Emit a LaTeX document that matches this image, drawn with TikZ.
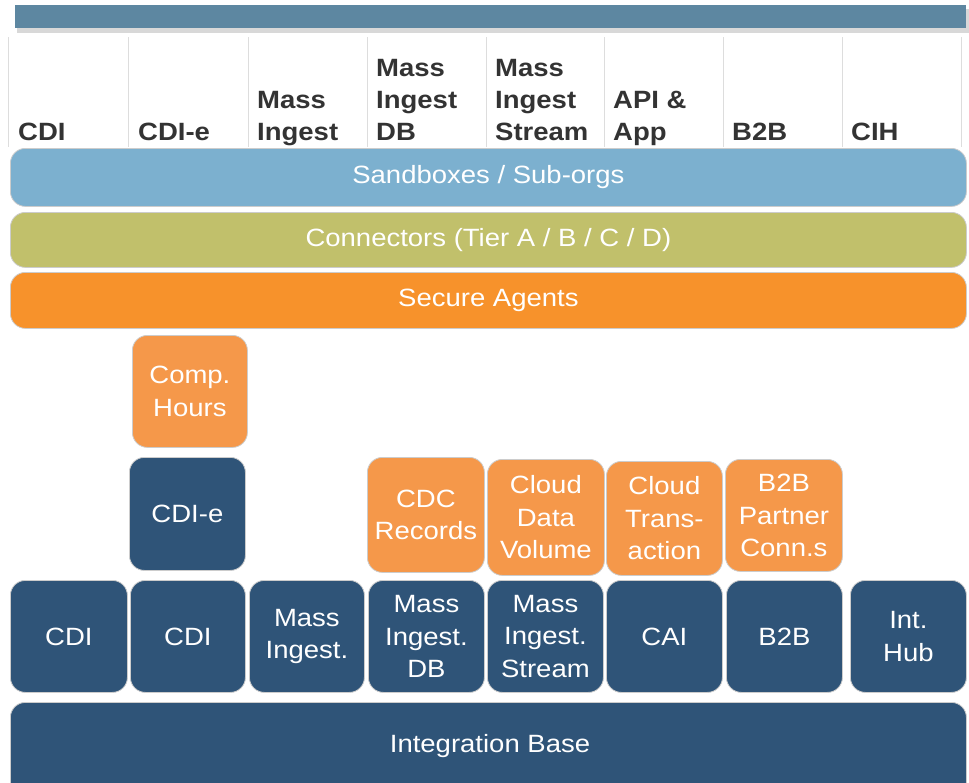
\documentclass[tikz,border=0pt]{standalone}
\usepackage{fontspec}
\setmainfont[FakeStretch=1.1]{Liberation Sans}
\definecolor{topbar}{HTML}{5D87A1}
\definecolor{sandc}{HTML}{7CB0CF}
\definecolor{connc}{HTML}{C1C06B}
\definecolor{agentc}{HTML}{F7922B}
\definecolor{orc}{HTML}{F5984A}
\definecolor{darkc}{HTML}{2F5478}
\definecolor{headc}{HTML}{333333}
\definecolor{gridc}{HTML}{DDDDDD}
\tikzset{
  base/.style={rounded corners=15pt, draw=gray!40, line width=0.8pt, text=white, align=center, inner sep=0pt, anchor=north west,
    font=\fontsize{25}{32.5}\selectfont},
  dbox/.style={base, fill=darkc},
  obox/.style={base, fill=orc},
  band/.style={base},
  head/.style={anchor=south west, align=left, inner sep=0pt, text depth=0pt, text=headc, font=\bfseries\fontsize{25}{32}\selectfont},
}
\begin{document}
\begin{tikzpicture}[x=1pt,y=-1pt]
\useasboundingbox (0,0) rectangle (969,782);
% top bar with shadow
\fill[black!30, opacity=0.5] (17,9) rectangle (969,33);
\fill[topbar] (15,5) rectangle (966,28);
\node[inner sep=0pt] (topbar) at (490,16) {};
% header grid
\foreach \x in {8,128,248,367,486,604,723,842,961}
  \draw[gridc, line width=1pt] (\x,37) -- (\x,147);
\node[head] (h1) at (18,141) {CDI};
\node[head] (h2) at (138,141) {CDI-e};
\node[head] (h3) at (257,141) {Mass\\Ingest};
\node[head] (h4) at (376,141) {Mass\\Ingest\\DB};
\node[head] (h5) at (495,141) {Mass\\Ingest\\Stream};
\node[head] (h6) at (613,141) {API \&\\App};
\node[head] (h7) at (732,141) {B2B};
\node[head] (h8) at (851,141) {CIH};
% bands
\node[band, fill=sandc, minimum width=956pt, minimum height=58pt] (sand) at (10,148) {Sandboxes / Sub-orgs};
\node[band, fill=connc, minimum width=956pt, minimum height=55pt] (conn) at (10,212) {Connectors (Tier A / B / C / D)};
\node[band, fill=agentc, minimum width=956pt, minimum height=56pt] (agent) at (10,272) {Secure Agents};
% upper boxes
\node[obox, minimum width=115pt, minimum height=112pt] (comp) at (132,335) {Comp.\\Hours};
\node[dbox, minimum width=116pt, minimum height=113pt] (cdie) at (129,457) {CDI-e};
\node[obox, minimum width=117pt, minimum height=115pt] (cdc) at (367,457) {CDC\\Records};
\node[obox, minimum width=117pt, minimum height=116pt] (cdv) at (487,459) {Cloud\\Data\\Volume};
\node[obox, minimum width=116pt, minimum height=114pt] (ctr) at (606,461) {Cloud\\Trans-\\action};
\node[obox, minimum width=117pt, minimum height=112pt] (b2bp) at (725,459) {B2B\\Partner\\Conn.s};
% bottom row
\node[dbox, minimum width=117pt, minimum height=112pt] (cdi1) at (10,580) {CDI};
\node[dbox, minimum width=115pt, minimum height=112pt] (cdi2) at (130,580) {CDI};
\node[dbox, minimum width=115pt, minimum height=112pt] (mi) at (249,580) {Mass\\Ingest.};
\node[dbox, minimum width=116pt, minimum height=112pt] (midb) at (368,580) {Mass\\Ingest.\\DB};
\node[dbox, minimum width=116pt, minimum height=112pt] (mis) at (487,580) {Mass\\Ingest.\\Stream};
\node[dbox, minimum width=116pt, minimum height=112pt] (cai) at (606,580) {CAI};
\node[dbox, minimum width=116pt, minimum height=112pt] (b2b) at (726,580) {B2B};
\node[dbox, minimum width=116pt, minimum height=112pt] (hub) at (850,580) {Int.\\Hub};
% integration base
\node[dbox, minimum width=956pt, minimum height=95pt] (ib) at (10,702) {};
\node[text=white, font=\fontsize{25}{32}\selectfont] (ibt) at (490,746) {Integration Base};
\end{tikzpicture}
\end{document}
